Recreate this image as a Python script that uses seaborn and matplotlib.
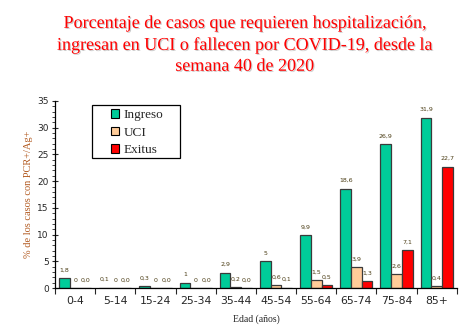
import matplotlib
matplotlib.use("Agg")
import matplotlib.pyplot as plt
import matplotlib.patheffects as pe
from matplotlib.patches import Rectangle
from matplotlib.ticker import MultipleLocator, FixedLocator
import seaborn as sns
import pandas as pd

# Grupos de edad y porcentajes por serie
edades = ["0-4", "5-14", "15-24", "25-34", "35-44", "45-54", "55-64", "65-74", "75-84", "85+"]
ingreso = [1.8, 0.1, 0.3, 1.0, 2.9, 5.0, 9.9, 18.6, 26.9, 31.9]
uci = [0.0, 0.0, 0.0, 0.0, 0.2, 0.6, 1.5, 3.9, 2.6, 0.4]
exitus = [0.0, 0.0, 0.0, 0.0, 0.0, 0.1, 0.5, 1.3, 7.1, 22.7]

# Etiquetas de valor tal como se rotulan
etq_ingreso = ["1,8", "0,1", "0,3", "1", "2,9", "5", "9,9", "18,6", "26,9", "31,9"]
etq_uci = ["0", "0", "0", "0", "0,2", "0,6", "1,5", "3,9", "2,6", "0,4"]
etq_exitus = ["0,0", "0,0", "0,0", "0,0", "0,0", "0,1", "0,5", "1,3", "7,1", "22,7"]

series = ["Ingreso", "UCI", "Exitus"]
colores = {"Ingreso": "#00cc99", "UCI": "#ffcc99", "Exitus": "#ff0000"}

df = pd.DataFrame({
    "edad": edades * 3,
    "serie": ["Ingreso"] * 10 + ["UCI"] * 10 + ["Exitus"] * 10,
    "valor": ingreso + uci + exitus,
})

sns.set_style("white")
plt.rcParams["font.family"] = ["DejaVu Sans"]

fig = plt.figure(figsize=(4.7, 3.3), dpi=100)
ax = fig.add_axes([0.117, 0.127, 0.855, 0.567])

sns.barplot(data=df, x="edad", y="valor", hue="serie", order=edades,
            hue_order=series, palette=colores, width=0.8, saturation=1,
            edgecolor="#3a3a3a", linewidth=0.9, ax=ax, legend=False)

for cont, etqs in zip(ax.containers, [etq_ingreso, etq_uci, etq_exitus]):
    ax.bar_label(cont, labels=etqs, padding=4, fontsize=4.5, color="#4a3c14")

ax.set_xlim(-0.5, 9.5)
ax.set_ylim(0, 35)
ax.yaxis.set_major_locator(MultipleLocator(5))
ax.yaxis.set_minor_locator(MultipleLocator(1))
ax.tick_params(axis="y", which="major", direction="inout", length=5, width=0.8,
               labelsize=6.5, pad=2, left=True)
ax.tick_params(axis="y", which="minor", direction="out", length=2.5, width=0.6, left=True)

# separadores de grupo en el eje x, etiquetas centradas
ax.xaxis.set_major_locator(FixedLocator(range(len(edades))))
ax.set_xticklabels(edades)
ax.xaxis.set_minor_locator(FixedLocator([i - 0.5 for i in range(len(edades) + 1)]))
ax.tick_params(axis="x", which="major", length=0, labelsize=7.8, pad=6)
ax.tick_params(axis="x", which="minor", direction="out", length=4, width=0.8, bottom=True)

for s in ["top", "right"]:
    ax.spines[s].set_visible(False)
for s in ["left", "bottom"]:
    ax.spines[s].set_color("black")
    ax.spines[s].set_linewidth(0.9)

ax.set_xlabel("Edad (años)", family="Liberation Serif", fontsize=7, labelpad=6)
ax.set_ylabel("% de los casos con PCR+/Ag+", family="Liberation Serif", fontsize=7.5,
              color="#b2591f", labelpad=3)

# leyenda con marco propio
fig.patches.append(Rectangle((92 / 470, 1 - 158 / 330), 88 / 470, 53 / 330,
                             transform=fig.transFigure, facecolor="white",
                             edgecolor="black", linewidth=0.9, zorder=5))
handles = [Rectangle((0, 0), 1, 1, facecolor=colores[s], edgecolor="black", linewidth=0.8)
           for s in series]
leg = fig.legend(handles, series, loc="upper left", bbox_to_anchor=(111 / 470, 1 - 109 / 330),
                 frameon=False, prop={"family": "Liberation Serif", "size": 9.5},
                 handlelength=0.6, handleheight=0.6, handletextpad=0.35,
                 borderpad=0, labelspacing=0.42, borderaxespad=0)
leg.set_zorder(6)

fig.text(0.52, 0.955,
         "Porcentaje de casos que requieren hospitalización,\n"
         "ingresan en UCI o fallecen por COVID-19, desde la\n"
         "semana 40 de 2020",
         ha="center", va="top", color="#ff0000", family="Liberation Serif",
         fontsize=13.0, linespacing=1.3,
         path_effects=[pe.withSimplePatchShadow(offset=(0.8, -0.8), shadow_rgbFace="#999999", alpha=0.5)])

fig.savefig("out.png", dpi=100)
